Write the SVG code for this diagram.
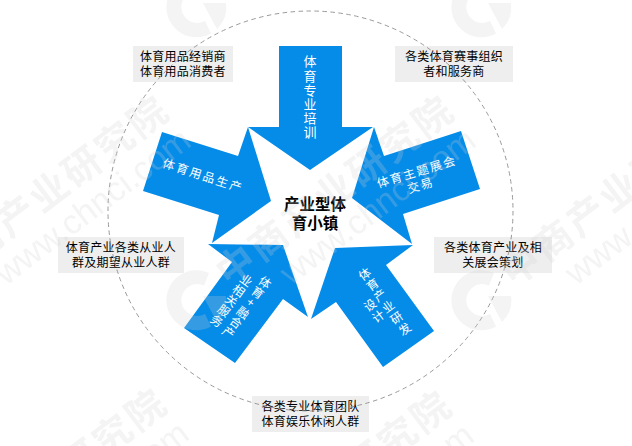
<svg xmlns="http://www.w3.org/2000/svg" width="632" height="446" viewBox="0 0 632 446">
<style>
text{font-family:"Noto Sans CJK SC","Liberation Sans",sans-serif}
.arrow{fill:#058ce9}
.box{fill:#eeeeee}
.lbl{font-size:12px;fill:#000;text-anchor:middle;letter-spacing:.25px}
.in{font-size:12px;fill:#fff;text-anchor:middle}
.in13{font-size:13px;fill:#fff;text-anchor:middle}
.ctr{font-size:15.5px;font-weight:700;fill:#000;text-anchor:middle}
.wm{font-size:38px;fill:#cfcfcf}
.wmu{font-size:34px;fill:#cfcfcf;font-family:"Liberation Sans",sans-serif}
</style>
<defs>
<g id="wmText">
<text class="wm" text-anchor="end" x="22" y="14" font-weight="700" letter-spacing="3">中商产业研究院</text>
<text class="wmu" text-anchor="end" x="20" y="50">www.chnci.com</text>
</g>
<g id="wmLogo" fill="#cfcfcf">
<path d="M12 -27 A30 30 0 1 0 14 26.500 L8 14 A16 16 0 1 1 7 -14.500 Z"/>
<path d="M6 -4 L29 -4 A30 30 0 0 1 20 22 Z"/>
</g>
</defs>
<rect width="632" height="446" fill="#fff"/>
<g id="node-top"><polygon class="arrow" points="279,46 342,46 342,127 373,127 310,170 248,127 279,127"/><text class="in13" x="310 310 310 310 310 310" y="66 80.500 94.500 108.500 122.500 136.500">体育专业培训</text></g>
<g id="node-left"><polygon class="arrow" points="162,132 238,156 248,127 271,201 212,243 219,215 143,191"/><text class="in" transform="translate(203,176) rotate(18)" y="4" letter-spacing="2">体育用品生产</text></g>
<g id="node-right"><polygon class="arrow" points="461,131 480,189 403,214 412,244 352,198 374,127 384,156"/><g transform="translate(418,176) rotate(-17)"><text class="in" y="0" letter-spacing="1.800">体育主题展会</text><text class="in" y="14" letter-spacing="1.800">交易</text></g></g>
<g id="node-bottom-left"><polygon class="arrow" points="208,244 283,245 308,317 283,299 235,363 184,328 232,262"/><g transform="translate(240,305) rotate(36)"><text class="in" x="7 7 7 7 7 7" y="-28.500 -16 -4 9 21 33.500">体育+融合产</text><text class="in" x="-9.500 -9.500 -9.500 -9.500 -9.500" y="-19 -6.500 6 18.500 31">业相关服务</text></g></g>
<g id="node-bottom-right"><polygon class="arrow" points="335,248 413,245 386,265 434,331 383,367 336,302 311,319"/><g transform="translate(380,307) rotate(-36)"><text class="in" x="7 7 7 7 7 7" y="-31 -18 -5 9 23 37">体育产业研发</text><text class="in" x="-7 -7" y="-3 11">设计</text></g></g>
<g id="label-tl"><rect class="box" x="133" y="46" width="100" height="36"/><text class="lbl" x="183" y="60.500">体育用品经销商</text><text class="lbl" x="183" y="75.500">体育用品消费者</text></g>
<g id="label-tr"><rect class="box" x="395" y="46" width="118" height="36"/><text class="lbl" x="454" y="60.500">各类体育赛事组织</text><text class="lbl" x="454" y="75.500">者和服务商</text></g>
<g id="label-l"><rect class="box" x="58" y="237" width="126" height="36"/><text class="lbl" x="121" y="251.500">体育产业各类从业人</text><text class="lbl" x="121" y="266.500">群及期望从业人群</text></g>
<g id="label-r"><rect class="box" x="434" y="237" width="118" height="36"/><text class="lbl" x="493" y="251.500">各类体育产业及相</text><text class="lbl" x="493" y="266.500">关展会策划</text></g>
<g id="label-b"><rect class="box" x="252" y="396" width="117" height="36"/><text class="lbl" x="310.500" y="411">各类专业体育团队</text><text class="lbl" x="310.500" y="426">体育娱乐休闲人群</text></g>
<g id="center"><text class="ctr" x="315" y="209.500">产业型体</text><text class="ctr" x="315" y="229">育小镇</text></g>
<g id="connectors"><ellipse cx="310.500" cy="211" rx="202.500" ry="200" fill="none" stroke="#999" stroke-width="1" stroke-dasharray="4.500 3.500"/></g>
<g id="watermark" opacity=".24">
<use href="#wmText" transform="translate(147,117) rotate(-37)"/>
<use href="#wmText" transform="translate(432,117) rotate(-37)"/>
<use href="#wmText" transform="translate(717,117) rotate(-37)"/>
<use href="#wmText" transform="translate(145,410) rotate(-37)"/>
<use href="#wmText" transform="translate(430,412) rotate(-37)"/>
<use href="#wmLogo" transform="translate(197,7)"/>
<use href="#wmLogo" transform="translate(482,7)"/>
<use href="#wmLogo" transform="translate(197,300)"/>
<use href="#wmLogo" transform="translate(482,300)"/>
</g>
</svg>
